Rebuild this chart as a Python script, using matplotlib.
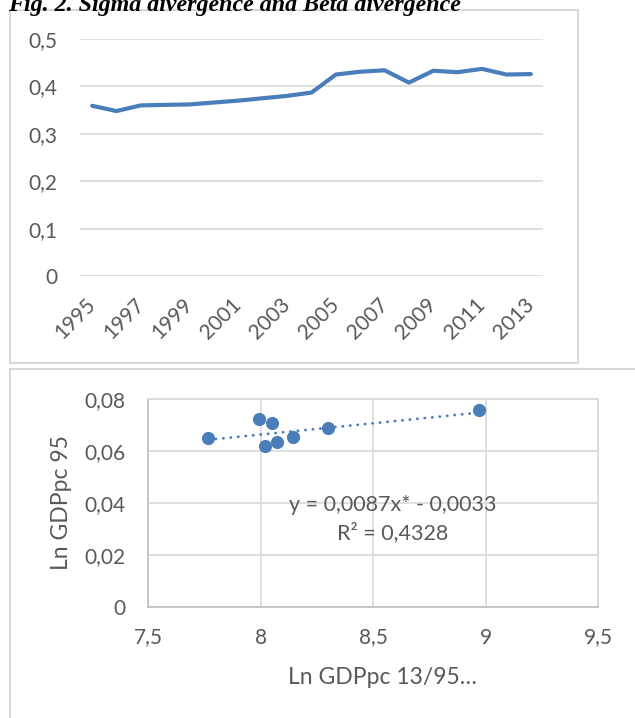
import numpy as np
import matplotlib
matplotlib.use('Agg')
import matplotlib.pyplot as plt
from matplotlib.patches import Rectangle

# sigma divergence, 1995-2013
years = list(range(1995, 2014))
sigma = [0.359, 0.348, 0.360, 0.361, 0.362, 0.366, 0.370, 0.375, 0.380, 0.387,
         0.425, 0.431, 0.434, 0.408, 0.433, 0.430, 0.437, 0.425, 0.426]
sigma_ticks = [0, 0.1, 0.2, 0.3, 0.4, 0.5]
sigma_ticklabels = ['0', '0,1', '0,2', '0,3', '0,4', '0,5']

# beta divergence scatter
ln_gdp_13_95 = [7.768, 7.995, 8.050, 8.020, 8.072, 8.146, 8.302, 8.972]
ln_gdp_95 = [0.0649, 0.0723, 0.0709, 0.0620, 0.0633, 0.0655, 0.0689, 0.0758]
trend_slope = 0.0087
trend_icpt = -0.0033
beta_xticks = [7.5, 8, 8.5, 9, 9.5]
beta_xticklabels = ['7,5', '8', '8,5', '9', '9,5']
beta_yticks = [0, 0.02, 0.04, 0.06, 0.08]
beta_yticklabels = ['0', '0,02', '0,04', '0,06', '0,08']

blue = '#4a7ebb'
grid = '#d9d9d9'
txt = '#595959'
plt.rcParams['font.family'] = ['Lato', 'DejaVu Sans']

W, H = 635, 718
fig = plt.figure(figsize=(W / 100, H / 100), dpi=100)

def fbox(x0, y0, x1, y1):
    # pixel box (top-left origin) -> figure fraction [l, b, w, h]
    return [x0 / W, 1 - y1 / H, (x1 - x0) / W, (y1 - y0) / H]

fig.text(8 / W, 1 - 11 / H, 'Fig. 2. Sigma divergence and Beta divergence',
         family='Liberation Serif', weight='bold', style='italic',
         fontsize=17.3, va='baseline', ha='left')

# panel frames
fig.patches.append(Rectangle((10 / W, 1 - 363 / H), 568 / W, 353.5 / H,
                             transform=fig.transFigure, fill=False,
                             edgecolor=grid, lw=1.5))
fig.patches.append(Rectangle((10 / W, -0.05), 1.0, 1 - 369.5 / H + 0.05,
                             transform=fig.transFigure, fill=False,
                             edgecolor=grid, lw=1.5))

# top: sigma
ax1 = fig.add_axes(fbox(80, 39, 543, 276))
idx = np.arange(len(years))
ax1.plot(idx, sigma, color=blue, lw=3, solid_capstyle='round', zorder=3)
ax1.set_xlim(-0.5, len(years) - 0.5)
ax1.set_ylim(0, 0.5)
ax1.set_yticks(sigma_ticks)
ax1.set_yticklabels(sigma_ticklabels)
ax1.set_xticks(idx[::2])
ax1.set_xticklabels([str(y) for y in years[::2]], rotation=45,
                    ha='right', va='center', rotation_mode='anchor')
ax1.yaxis.grid(True, color=grid, lw=1.2)
ax1.set_axisbelow(True)
for s in ax1.spines.values():
    s.set_visible(False)
ax1.tick_params(axis='both', length=0, colors=txt, labelsize=15)
ax1.tick_params(axis='y', pad=16.5)
ax1.tick_params(axis='x', pad=18.5)

# bottom: beta
ax2 = fig.add_axes(fbox(148, 399, 598, 606.7))
ax2.set_xlim(7.5, 9.5)
ax2.set_ylim(0, 0.08)
tx = np.array([min(ln_gdp_13_95), max(ln_gdp_13_95)])
ax2.plot(tx, trend_slope * tx + trend_icpt, color=blue, lw=2,
         linestyle=(0, (0.1, 2.6)), dash_capstyle='round', zorder=2)
ax2.scatter(ln_gdp_13_95, ln_gdp_95, s=90, color=blue, zorder=3,
            linewidths=0)
ax2.set_xticks(beta_xticks)
ax2.set_xticklabels(beta_xticklabels)
ax2.set_yticks(beta_yticks)
ax2.set_yticklabels(beta_yticklabels)
ax2.grid(True, color=grid, lw=1.2)
ax2.set_axisbelow(True)
for k, s in ax2.spines.items():
    s.set_color('#bfbfbf' if k in ('left', 'bottom') else grid)
    s.set_linewidth(1.2)
ax2.tick_params(axis='both', length=0, colors=txt, labelsize=15)
ax2.tick_params(axis='y', pad=16)
ax2.tick_params(axis='x', pad=15)
ax2.set_ylabel('Ln GDPpc 95', fontsize=16.5, color=txt)
ax2.set_xlabel('Ln GDPpc 13/95…', fontsize=16.5, color=txt)
ax2.xaxis.set_label_coords((382 - 148) / 450, -(678 - 606.7) / 207.7)
ax2.yaxis.set_label_coords((61.7 - 148) / 450, (606.7 - 503) / 207.7)
ax2.get_xaxis().label.set_va('center')
ax2.get_yaxis().label.set_va('center')
ax2.text(8.589, 0.0392, 'y = 0,0087x* - 0,0033', fontsize=15.5, color=txt,
         ha='center', va='center')
ax2.text(8.589, 0.0286, 'R² = 0,4328', fontsize=15.5, color=txt,
         ha='center', va='center')

fig.savefig('out.png', dpi=100)
